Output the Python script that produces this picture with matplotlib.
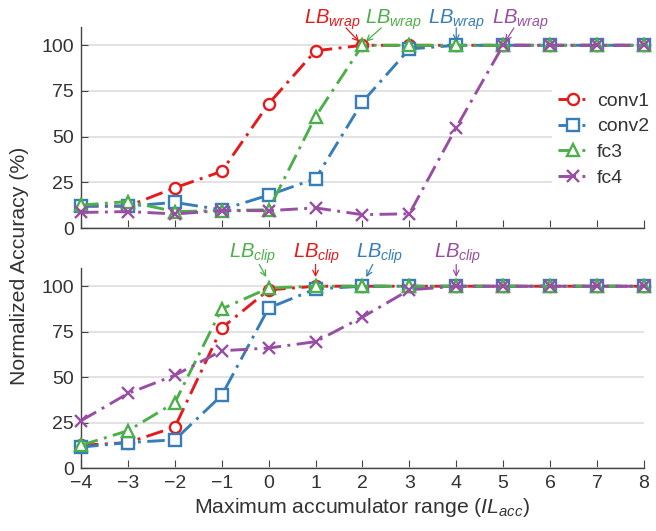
import numpy as np
import matplotlib
matplotlib.use("Agg")
import matplotlib.pyplot as plt

plt.rcParams['font.family'] = ['Liberation Sans', 'DejaVu Sans']
plt.rcParams['mathtext.fontset'] = 'custom'
plt.rcParams['mathtext.it'] = 'Liberation Sans:italic'
plt.rcParams['mathtext.rm'] = 'Liberation Sans'

x = [-4, -3, -2, -1, 0, 1, 2, 3, 4, 5, 6, 7, 8]
names = ["conv1", "conv2", "fc3", "fc4"]

# wrap-around experiment (top)
wrap = {
    "conv1": [12, 12, 22, 31, 68, 97, 100, 100, 100, 100, 100, 100, 100],
    "conv2": [12, 12, 14, 10, 18, 27, 69, 98, 100, 100, 100, 100, 100],
    "fc3":   [12.5, 14.5, 9, 9.5, 10, 61, 100, 100, 100, 100, 100, 100, 100],
    "fc4":   [8.5, 9, 7.7, 9.5, 9.5, 11, 7.3, 7.8, 55, 100, 100, 100, 100],
}
# clipping experiment (bottom)
clip = {
    "conv1": [12.5, 14, 22.5, 77, 98, 100, 100, 100, 100, 100, 100, 100, 100],
    "conv2": [11.5, 14, 15.5, 40, 88, 98.5, 100, 100, 100, 100, 100, 100, 100],
    "fc3":   [12.5, 20.5, 36, 87.5, 99, 100, 100, 100, 100, 100, 100, 100, 100],
    "fc4":   [26, 41, 51, 64.5, 66, 69.5, 83, 98, 100, 100, 100, 100, 100],
}

colors = {"conv1": "#e41a1c", "conv2": "#377eb8", "fc3": "#4daf4a", "fc4": "#984ea3"}
markers = {"conv1": "o", "conv2": "s", "fc3": "^", "fc4": "x"}
txtcol = "#333333"

fig = plt.figure(figsize=(6.56, 5.31), dpi=100)
ax1 = fig.add_axes([0.1235, 0.5706, 0.858, 0.3785])
ax2 = fig.add_axes([0.1235, 0.1186, 0.858, 0.3766])

for ax, data in [(ax1, wrap), (ax2, clip)]:
    for n in names:
        ax.plot(x, data[n], color=colors[n], linestyle=(0, (6, 2.2, 1, 2.2)), lw=2.1,
                marker=markers[n], markersize=8, markerfacecolor="white",
                markeredgewidth=1.7, label=n, clip_on=False, zorder=3)
    ax.set_xlim(-4, 8)
    ax.set_ylim(0, 110)
    ax.set_xticks(x)
    ax.set_yticks([0, 25, 50, 75, 100])
    ax.yaxis.grid(True, color="#dddddd", lw=1.2)
    ax.set_axisbelow(True)
    for s in ["top", "right"]:
        ax.spines[s].set_visible(False)
    for s in ["left", "bottom"]:
        ax.spines[s].set_color("#444444")
        ax.spines[s].set_linewidth(1.0)
    ax.tick_params(axis="x", direction="in", length=6, color="#444444",
                   labelsize=14, labelcolor=txtcol, pad=5)
    ax.tick_params(axis="y", direction="in", length=5, color="#444444",
                   labelsize=14, labelcolor=txtcol, pad=5)

ax1.tick_params(axis="x", labelbottom=False)
ax2.set_xlabel("Maximum accumulator range ($IL_{acc}$)", fontsize=15.3, color=txtcol, labelpad=3)
fig.text(0.03, 0.5, "Normalized Accuracy (%)", rotation=90, va="center", ha="center",
         fontsize=15.3, color=txtcol)

leg = ax1.legend(loc="center left", bbox_to_anchor=(0.82, 0.44), frameon=True,
                 fontsize=14, handlelength=1.5, handletextpad=0.5, labelspacing=0.42,
                 borderpad=0.3)
leg.get_frame().set_edgecolor("none")
leg.get_frame().set_facecolor("white")
leg.get_frame().set_alpha(1)
for t in leg.get_texts():
    t.set_color(txtcol)

# annotations (text x, arrow start, arrow end)
top_ann = [
    ("conv1", 1.36, (1.65, 109.5), (1.93, 102)),
    ("fc3", 2.66, (2.40, 109.5), (2.07, 102)),
    ("conv2", 4.01, (4.0, 109.5), (4.0, 102)),
    ("fc4", 5.37, (5.23, 109.5), (5.04, 102)),
]
for n, tx, p0, p1 in top_ann:
    ax1.text(tx, 114, r"$LB_{wrap}$", color=colors[n], fontsize=14.5, ha="center",
             va="center", clip_on=False)
    ax1.annotate("", xy=p1, xytext=p0, annotation_clip=False,
                 arrowprops=dict(arrowstyle="->", color=colors[n], lw=0.9,
                                 shrinkA=0, shrinkB=0))

bot_ann = [
    ("fc3", -0.35, (-0.2, 112), (-0.05, 105)),
    ("conv1", 1.02, (1.0, 112), (1.0, 105)),
    ("conv2", 2.36, (2.22, 112), (2.08, 105)),
    ("fc4", 4.03, (4.0, 112), (4.0, 105)),
]
for n, tx, p0, p1 in bot_ann:
    ax2.text(tx, 118, r"$LB_{clip}$", color=colors[n], fontsize=14.5, ha="center",
             va="center", clip_on=False)
    ax2.annotate("", xy=p1, xytext=p0, annotation_clip=False,
                 arrowprops=dict(arrowstyle="->", color=colors[n], lw=0.9,
                                 shrinkA=0, shrinkB=0))

fig.savefig("out.png", dpi=100)
